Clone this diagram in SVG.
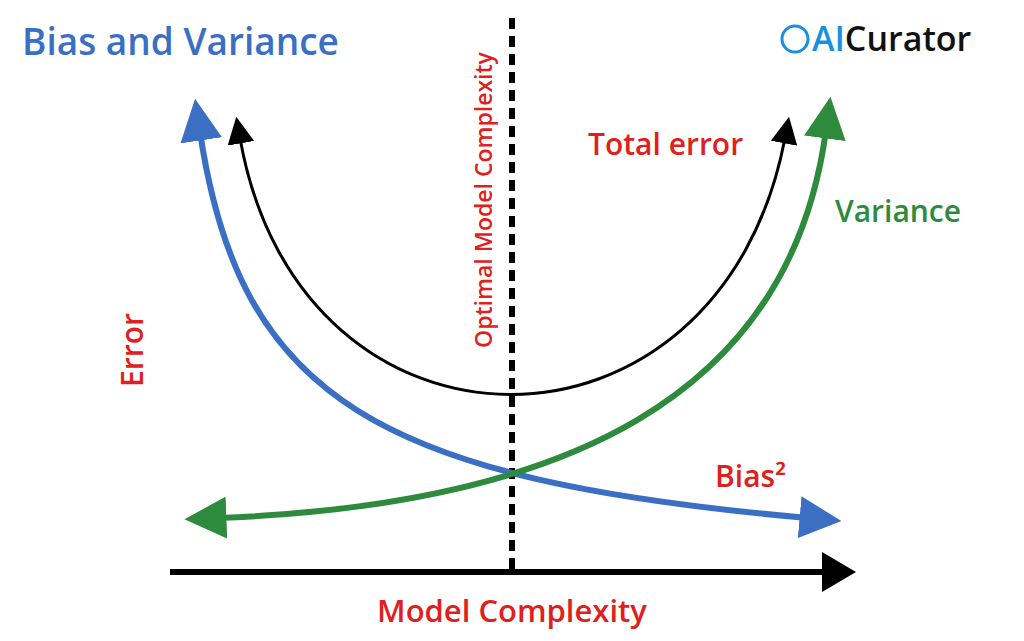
<svg xmlns="http://www.w3.org/2000/svg" width="1024" height="641" viewBox="0 0 1024 641">
<style>
.t{font-family:"Open Sans","Liberation Sans",sans-serif;font-weight:600}
.red{fill:#e0201c}
.c{fill:none}
</style>
<defs>
<marker id="mb" viewBox="0 0 10 10" refX="2" refY="5" markerWidth="7" markerHeight="7" orient="auto-start-reverse" markerUnits="strokeWidth"><path d="M0,0 L10,5 L0,10 Z" fill="#3a6fc4"/></marker>
<marker id="mg" viewBox="0 0 10 10" refX="2" refY="5" markerWidth="7" markerHeight="7" orient="auto-start-reverse" markerUnits="strokeWidth"><path d="M0,0 L10,5 L0,10 Z" fill="#2e8b3e"/></marker>
<marker id="mk" viewBox="0 0 10 10" refX="2" refY="5" markerWidth="9" markerHeight="9" orient="auto-start-reverse" markerUnits="strokeWidth"><path d="M0,0 L10,5 L0,10 Z" fill="#000"/></marker>
</defs>
<rect width="1024" height="641" fill="#fff"/>
<text class="t" x="22" y="55" font-size="37" font-weight="700" fill="#3a6fc4">Bias and Variance</text>
<g id="logo"><text class="t" x="812" y="51" font-size="34" font-weight="700"><tspan fill="#1a8fe0">AI</tspan><tspan fill="#111">Curator</tspan></text>
<circle cx="795" cy="39" r="13" fill="none" stroke="#1a8fe0" stroke-width="3"/></g>
<g id="connectors">
<line x1="512" y1="18" x2="512" y2="572" stroke="#000" stroke-width="6" stroke-dasharray="11,7"/>
<path id="black" class="c" stroke="#000" stroke-width="3" d="M240,138 C300,480 720,480 785,138" marker-start="url(#mk)" marker-end="url(#mk)"/>
<path id="blue" class="c" stroke="#3a6fc4" stroke-width="6" d="M200,132 C240,400 380,480 808,518" marker-start="url(#mb)" marker-end="url(#mb)"/>
<path id="green" class="c" stroke="#2e8b3e" stroke-width="6" d="M218,518 C560,505 790,400 826,130" marker-start="url(#mg)" marker-end="url(#mg)"/>
<line x1="170" y1="572" x2="828" y2="572" stroke="#000" stroke-width="6"/>
<path d="M822,552 L856,572 L822,592 Z" fill="#000"/>
</g>
<text class="t red" transform="translate(492,200) rotate(-90)" text-anchor="middle" font-size="23" font-weight="500">Optimal Model Complexity</text>
<text class="t red" x="588" y="155" font-size="30">Total error</text>
<text class="t" x="835" y="222" font-size="30" fill="#2e8b3e">Variance</text>
<text class="t red" transform="translate(143,350) rotate(-90)" text-anchor="middle" font-size="30">Error</text>
<text class="t red" x="715" y="487" font-size="30">Bias²</text>
<text class="t red" x="512" y="622" text-anchor="middle" font-size="31">Model Complexity</text>
</svg>
